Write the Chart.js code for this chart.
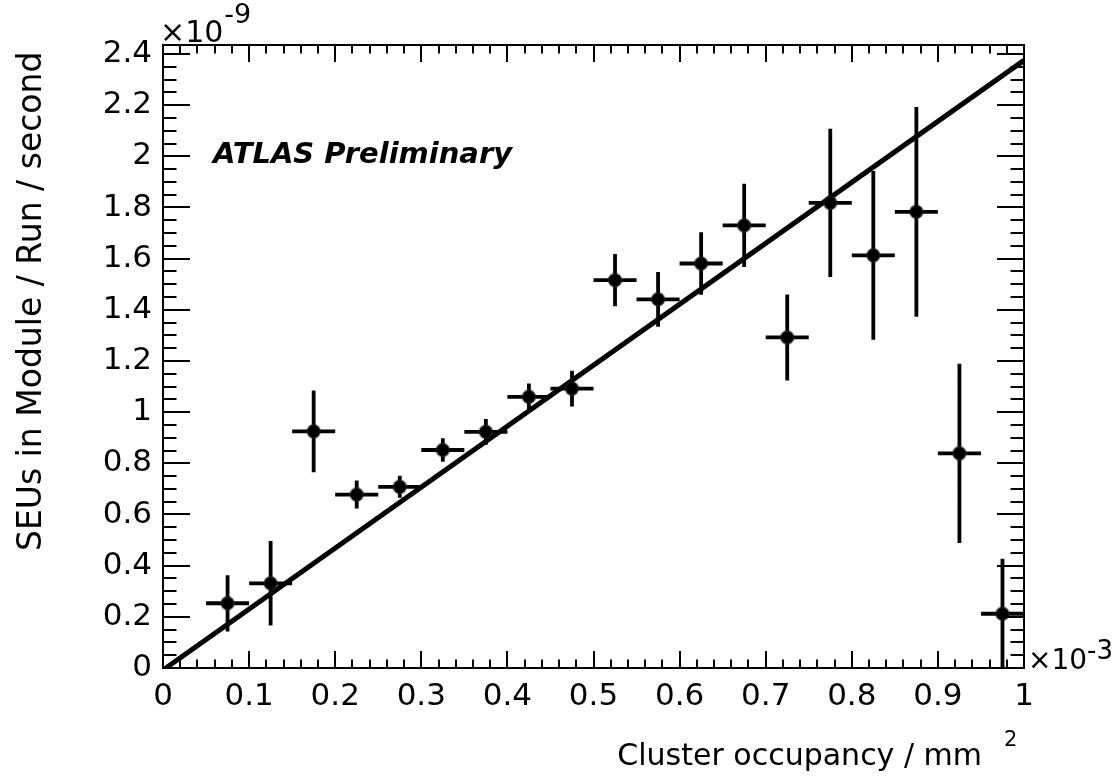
<!DOCTYPE html>
<html>
<head>
<meta charset="utf-8">
<script src="https://cdn.jsdelivr.net/npm/chart.js@4.4.1/dist/chart.umd.min.js"></script>
<style>
  html, body { margin: 0; padding: 0; background: #fff; }
  #wrap { width: 1114px; height: 779px; }
</style>
</head>
<body>
<div id="wrap"><canvas id="seuChart" width="1114" height="779"></canvas></div>
<script>
// occupancy bins (x1e-3 / mm^2) and SEU rate (x1e-9 per module / run / second)
const binCenters = [0.075, 0.125, 0.175, 0.225, 0.275, 0.325, 0.375, 0.425, 0.475, 0.525,
                    0.575, 0.625, 0.675, 0.725, 0.775, 0.825, 0.875, 0.925, 0.975];
const binHalfWidths = [0.025, 0.025, 0.025, 0.025, 0.025, 0.025, 0.025, 0.025, 0.025, 0.025,
                       0.025, 0.025, 0.025, 0.025, 0.025, 0.025, 0.025, 0.025, 0.025];
const seuRates = [0.253, 0.331, 0.925, 0.678, 0.708, 0.852, 0.923, 1.060, 1.092, 1.516,
                  1.441, 1.581, 1.730, 1.292, 1.818, 1.613, 1.783, 0.839, 0.212];
const seuErrors = [0.110, 0.165, 0.160, 0.055, 0.043, 0.046, 0.050, 0.052, 0.070, 0.102,
                   0.107, 0.122, 0.163, 0.168, 0.290, 0.330, 0.410, 0.350, 0.215];

// straight-line fit end points
const fitX = [0, 1];
const fitY = [-0.008, 2.375];

const xTickValues = [0, 0.1, 0.2, 0.3, 0.4, 0.5, 0.6, 0.7, 0.8, 0.9, 1];
const xTickLabels = ['0', '0.1', '0.2', '0.3', '0.4', '0.5', '0.6', '0.7', '0.8', '0.9', '1'];
const yTickValues = [0, 0.2, 0.4, 0.6, 0.8, 1, 1.2, 1.4, 1.6, 1.8, 2, 2.2, 2.4];
const yTickLabels = ['0', '0.2', '0.4', '0.6', '0.8', '1', '1.2', '1.4', '1.6', '1.8', '2', '2.2', '2.4'];

const FONT = "'DejaVu Sans', sans-serif";
Chart.defaults.font.family = FONT;
Chart.defaults.color = '#000';

// error bars drawn under the markers
const errorBars = {
  id: 'errorBars',
  beforeDatasetsDraw(chart) {
    const {ctx, chartArea: a, scales: {x, y}} = chart;
    ctx.save();
    ctx.beginPath();
    ctx.rect(a.left, a.top, a.right - a.left, a.bottom - a.top);
    ctx.clip();
    ctx.strokeStyle = '#000';
    ctx.lineWidth = 3.8;
    ctx.beginPath();
    binCenters.forEach((c, i) => {
      const px = x.getPixelForValue(c);
      const py = y.getPixelForValue(seuRates[i]);
      ctx.moveTo(x.getPixelForValue(c - binHalfWidths[i]), py);
      ctx.lineTo(x.getPixelForValue(c + binHalfWidths[i]), py);
      ctx.moveTo(px, y.getPixelForValue(seuRates[i] - seuErrors[i]));
      ctx.lineTo(px, y.getPixelForValue(seuRates[i] + seuErrors[i]));
    });
    ctx.stroke();
    ctx.restore();
  }
};

// ROOT style frame: inner ticks on all four sides plus the loose texts
const rootFrame = {
  id: 'rootFrame',
  afterDraw(chart) {
    const {ctx, chartArea: a, scales: {x, y}} = chart;
    ctx.save();
    ctx.strokeStyle = '#000';
    ctx.lineWidth = 2;
    ctx.strokeRect(a.left, a.top, a.right - a.left, a.bottom - a.top);
    ctx.beginPath();
    for (let i = 0; i <= 50; i++) {
      const px = Math.round(x.getPixelForValue(i * 0.02));
      const len = i % 5 === 0 ? 17 : 8.5;
      ctx.moveTo(px, a.bottom); ctx.lineTo(px, a.bottom - len);
      ctx.moveTo(px, a.top); ctx.lineTo(px, a.top + len);
    }
    for (let i = 0; i * 0.05 <= y.max + 1e-9; i++) {
      const py = Math.round(y.getPixelForValue(i * 0.05));
      const len = i % 4 === 0 ? 27 : 13.5;
      ctx.moveTo(a.left, py); ctx.lineTo(a.left + len, py);
      ctx.moveTo(a.right, py); ctx.lineTo(a.right - len, py);
    }
    ctx.stroke();

    ctx.fillStyle = '#000';
    ctx.textBaseline = 'alphabetic';
    ctx.textAlign = 'left';

    // exponent of the y axis
    ctx.font = '30px ' + FONT;
    ctx.fillText('\u00d710', 160, 42);
    let w = ctx.measureText('\u00d710').width;
    ctx.font = '27px ' + FONT;
    ctx.fillText('-9', 160 + w + 1, 23);

    // exponent of the x axis
    ctx.font = '28px ' + FONT;
    ctx.fillText('\u00d710', 1028, 669);
    w = ctx.measureText('\u00d710').width;
    ctx.font = '26px ' + FONT;
    ctx.fillText('-3', 1028 + w, 659);

    // x axis title, right aligned as in ROOT
    ctx.font = '30px ' + FONT;
    ctx.textAlign = 'right';
    ctx.fillText('Cluster occupancy / mm', 982, 765);
    ctx.textAlign = 'left';
    ctx.font = '21px ' + FONT;
    ctx.fillText('2', 1004, 746);

    ctx.font = 'italic bold 29px ' + FONT;
    ctx.fillText('ATLAS Preliminary', 213, 163);
    ctx.restore();
  }
};

new Chart(document.getElementById('seuChart'), {
  type: 'scatter',
  data: {
    datasets: [{
      label: 'SEU rate',
      data: binCenters.map((c, i) => ({x: c, y: seuRates[i]})),
      pointRadius: 6.5,
      pointBackgroundColor: '#000',
      pointBorderColor: 'rgba(40,40,40,0.5)',
      pointBorderWidth: 2,
      showLine: false
    }, {
      label: 'Fit',
      type: 'line',
      data: fitX.map((v, i) => ({x: v, y: fitY[i]})),
      borderColor: '#000',
      borderWidth: 5,
      pointRadius: 0,
      fill: false
    }]
  },
  options: {
    responsive: false,
    animation: false,
    layout: { padding: { left: 0, right: 90, top: 45, bottom: 0 } },
    plugins: {
      legend: { display: false },
      tooltip: { enabled: false }
    },
    scales: {
      x: {
        type: 'linear',
        min: 0,
        max: 1,
        grid: { display: false },
        border: { display: false },
        afterBuildTicks: (s) => { s.ticks = xTickValues.map(v => ({value: v})); },
        afterFit: (s) => { s.height = 111; },
        ticks: {
          autoSkip: false,
          maxRotation: 0,
          padding: 2,
          font: { size: 31 },
          callback: (v, i) => xTickLabels[i]
        }
      },
      y: {
        type: 'linear',
        min: 0,
        max: 2.435,
        grid: { display: false },
        border: { display: false },
        afterBuildTicks: (s) => { s.ticks = yTickValues.map(v => ({value: v})); },
        afterFit: (s) => { s.width = 163; },
        ticks: {
          autoSkip: false,
          padding: 3,
          font: { size: 31 },
          callback: (v, i) => yTickLabels[i]
        },
        title: {
          display: true,
          text: 'SEUs in Module / Run / second\u2009',
          align: 'end',
          font: { size: 33 },
          padding: { top: 13, bottom: 0 }
        }
      }
    }
  },
  plugins: [errorBars, rootFrame]
});
</script>
</body>
</html>
